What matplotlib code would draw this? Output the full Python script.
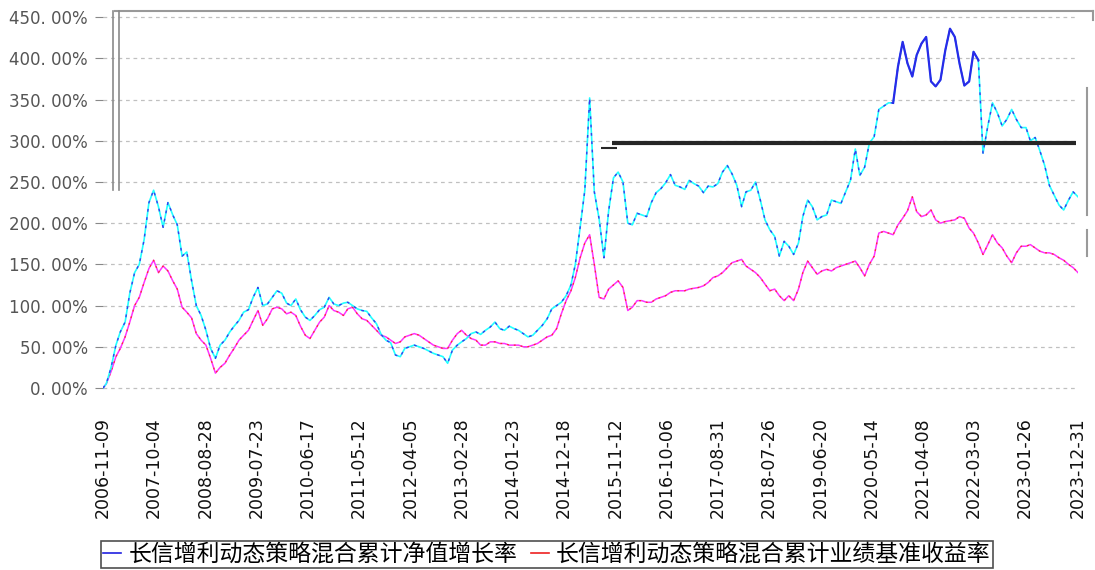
import matplotlib
matplotlib.use("Agg")
import matplotlib.pyplot as plt
import matplotlib.dates as mdates
from matplotlib.lines import Line2D
from matplotlib.ticker import FuncFormatter
import pandas as pd

# month-end sample points, first point is the fund inception date
dates = [pd.Timestamp("2006-11-09")] + list(pd.date_range("2006-11-30", "2023-12-31", freq="ME"))

fund_vals = [
    0, 5, 25,                                                      # 2006
    52, 68, 80, 115, 140, 150, 180, 225, 240, 220, 195, 225,       # 2007
    210, 198, 160, 165, 130, 100, 88, 70, 48, 36, 52, 58,          # 2008
    68, 75, 82, 92, 95, 110, 122, 100, 102, 110, 118, 115,         # 2009
    103, 100, 108, 95, 86, 82, 88, 95, 98, 110, 102, 100,          # 2010
    103, 104, 100, 96, 94, 93, 85, 78, 65, 58, 55, 40,             # 2011
    38, 48, 50, 52, 50, 48, 45, 42, 40, 38, 30, 46,                # 2012
    52, 56, 60, 66, 68, 65, 70, 74, 80, 72, 70, 75,                # 2013
    72, 70, 66, 62, 64, 70, 76, 84, 96, 100, 104, 112,             # 2014
    125, 150, 195, 240, 352, 238, 205, 158, 215, 255, 262, 250,    # 2015
    200, 198, 212, 210, 208, 225, 237, 242, 249, 259, 246, 244,    # 2016
    241, 252, 248, 245, 237, 245, 244, 248, 262, 270, 260, 246,    # 2017
    220, 238, 240, 250, 228, 204, 192, 184, 160, 178, 172, 162,    # 2018
    176, 208, 228, 220, 204, 208, 210, 228, 226, 224, 238, 252,    # 2019
    290, 258, 268, 297, 305, 338, 342, 346, 346, 390, 420, 394,    # 2020
    378, 404, 418, 426, 372, 366, 374, 410, 436, 426, 394, 367,    # 2021
    372, 408, 398, 285, 318, 346, 334, 318, 326, 338, 326, 316,    # 2022
    316, 300, 304, 288, 270, 246, 234, 222, 216, 228, 238, 232,    # 2023
]

bench_vals = [
    0, 5, 20,                                                      # 2006
    38, 48, 62, 80, 100, 110, 128, 145, 155, 140, 148, 142,        # 2007
    130, 120, 98, 92, 85, 66, 58, 52, 36, 18, 25, 30,              # 2008
    40, 48, 58, 64, 70, 82, 94, 76, 84, 96, 98, 96,                # 2009
    90, 92, 88, 75, 64, 60, 70, 80, 86, 100, 94, 92,               # 2010
    88, 96, 98, 90, 84, 82, 76, 70, 64, 62, 58, 54,                # 2011
    56, 62, 64, 66, 64, 60, 56, 52, 50, 48, 48, 58,                # 2012
    66, 70, 64, 60, 58, 52, 52, 56, 56, 54, 54, 52,                # 2013
    52, 52, 50, 50, 52, 54, 58, 62, 64, 72, 90, 106,               # 2014
    118, 134, 158, 176, 186, 150, 110, 108, 120, 125, 130, 122,    # 2015
    94, 98, 106, 106, 104, 104, 108, 110, 112, 116, 118, 118,      # 2016
    118, 120, 121, 122, 124, 128, 134, 136, 140, 146, 152, 154,    # 2017
    156, 148, 144, 140, 134, 126, 118, 120, 112, 106, 112, 106,    # 2018
    120, 140, 154, 146, 138, 142, 144, 142, 146, 148, 150, 152,    # 2019
    154, 146, 136, 150, 160, 188, 190, 188, 186, 198, 206, 215,    # 2020
    232, 214, 208, 210, 216, 204, 200, 202, 203, 204, 208, 206,    # 2021
    194, 188, 176, 162, 174, 186, 176, 170, 160, 152, 164, 172,    # 2022
    172, 174, 170, 166, 164, 164, 162, 158, 155, 150, 146, 140,    # 2023
]

tick_labels = ["2006-11-09", "2007-10-04", "2008-08-28", "2009-07-23", "2010-06-17",
               "2011-05-12", "2012-04-05", "2013-02-28", "2014-01-23", "2014-12-18",
               "2015-11-12", "2016-10-06", "2017-08-31", "2018-07-26", "2019-06-20",
               "2020-05-14", "2021-04-08", "2022-03-03", "2023-01-26", "2023-12-31"]

fund_name = "长信增利动态策略混合累计净值增长率"
bench_name = "长信增利动态策略混合累计业绩基准收益率"

df = pd.DataFrame({"date": dates, "fund": fund_vals, "bench": bench_vals})

fig = plt.figure(figsize=(10.95, 5.70), dpi=100)
ax = fig.add_axes([103 / 1095, 0.3121, 975 / 1095, 0.6679])

# benchmark: magenta with red dashes on top
ax.plot(df["date"], df["bench"], color="#ff33ff", lw=1.1)
ax.plot(df["date"], df["bench"], color="#ff3030", lw=0.9, dashes=(1.5, 4))

# fund: cyan with blue dashes on top, solid blue around the 2021 top
ax.plot(df["date"], df["fund"], color="#22ffff", lw=1.2)
ax.plot(df["date"], df["fund"], color="#3a3aee", lw=1.0, dashes=(2, 4))
top = df[(df["date"] >= "2020-09-01") & (df["date"] <= "2022-03-31")]
ax.plot(top["date"], top["fund"], color="#2a2ae8", lw=1.6)

# dark horizontal bar that shows up in the original render
ax.hlines(297, pd.Timestamp("2015-10-20"), pd.Timestamp("2023-12-20"), color="#262626", lw=3)
ax.hlines(291, pd.Timestamp("2015-08-10"), pd.Timestamp("2015-11-25"), color="#262626", lw=1.5)

ax.set_xlim(pd.Timestamp("2006-11-09"), pd.Timestamp("2023-12-31"))
ax.set_ylim(-5, 457)
ax.set_yticks(range(0, 451, 50))
ax.yaxis.set_major_formatter(FuncFormatter(lambda v, p: f"{v:.2f}%".replace(".", ". ")))
ax.set_xticks([mdates.date2num(pd.Timestamp(t)) for t in tick_labels])
ax.set_xticklabels(tick_labels, rotation=90)

ax.tick_params(axis="y", length=6, color="#888888", labelsize=12, labelcolor="#555555", pad=5)
ax.tick_params(axis="x", length=0, labelsize=12.5, labelcolor="#111111", pad=18)

ax.grid(axis="y", color="#c0c0c0", lw=0.9, dashes=(3, 3))
ax.set_axisbelow(True)
for s in ax.spines.values():
    s.set_visible(False)

# frame lines as they sit in the original render
fig.add_artist(Line2D([115 / 1095, 1093 / 1095], [1 - 11 / 570] * 2,
                      transform=fig.transFigure, color="#999999", lw=1.5))
fig.add_artist(Line2D([1093 / 1095] * 2, [1 - 11 / 570, 1 - 20 / 570],
                      transform=fig.transFigure, color="#999999", lw=1.5))
for x in (113, 119):
    fig.add_artist(Line2D([x / 1095] * 2, [1 - 11 / 570, 1 - 190 / 570],
                          transform=fig.transFigure, color="#8a8a8a", lw=1.2))
for y0, y1 in ((88, 215), (230, 256)):
    fig.add_artist(Line2D([1087 / 1095] * 2, [1 - y0 / 570, 1 - y1 / 570],
                          transform=fig.transFigure, color="#9a9a9a", lw=1.5))

handles = [Line2D([], [], color="#2020e0", lw=1.2), Line2D([], [], color="#ee2020", lw=1.2)]
leg = fig.legend(handles, [fund_name, bench_name], loc="lower center",
                 bbox_to_anchor=(0.4995, 0.003), ncol=2, frameon=True, fancybox=False,
                 prop={"family": ["Noto Sans CJK SC", "DejaVu Sans"], "size": 16.5},
                 handlelength=0.8, handletextpad=0.3, columnspacing=0.6,
                 borderpad=0.1, borderaxespad=0.0)
leg.get_frame().set_edgecolor("#222222")
leg.get_frame().set_linewidth(1.2)

fig.savefig("out.png", dpi=100)
